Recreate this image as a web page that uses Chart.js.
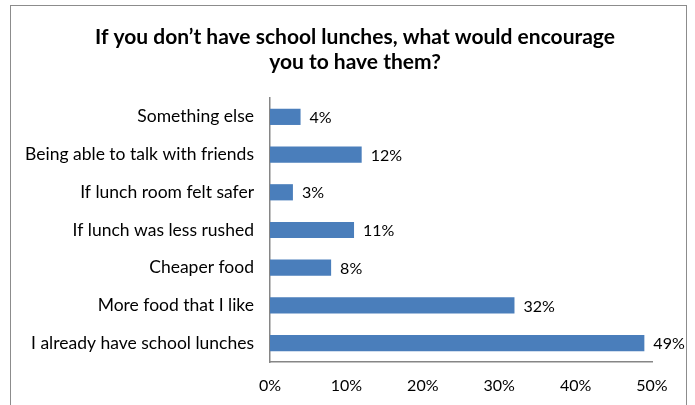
<!DOCTYPE html>
<html>
<head>
<meta charset="utf-8">
<script src="https://cdn.jsdelivr.net/npm/chart.js@4.4.1/dist/chart.umd.min.js"></script>
<style>
    html, body { margin: 0; padding: 0; background: #fff; }
    #wrap { position: relative; width: 695px; height: 405px; overflow: hidden; }
    #frame { position: absolute; left: 10px; top: 5px; width: 677px; height: 420px; border: 1px solid #8c8c8c; box-sizing: border-box; }
    #chart-almoco { position: absolute; left: 0; top: 0; }
</style>
</head>
<body>
<div id="wrap">
    <div id="frame"></div>
    <canvas id="chart-almoco" width="695" height="405"></canvas>
</div>
<script>
const titulo = ["If you don\u2019t have school lunches, what would encourage", "you to have them?"];
const categorias = [
    "Something else",
    "Being able to talk with friends",
    "If lunch room felt safer",
    "If lunch was less rushed",
    "Cheaper food",
    "More food that I like",
    "I already have school lunches"
];
const valores = [4, 12, 3, 11, 8, 32, 49];
const ticksX = [0, 10, 20, 30, 40, 50];

const fonte = 'Lato';
const corBarra = '#4a7ebb';
const corEixo = '#868686';

const canvaAlmoco = document.getElementById('chart-almoco');

// titulo desenhado a mao pra ficar centralizado no quadro e nao so no grafico
const pluginTitulo = {
    id: 'tituloQuadro',
    afterDraw(chart) {
        const ctx = chart.ctx;
        ctx.save();
        ctx.font = 'bold 21px ' + fonte;
        ctx.fillStyle = '#000';
        ctx.textAlign = 'center';
        ctx.textBaseline = 'middle';
        titulo.forEach((linha, i) => {
            ctx.fillText(linha, 355, 37 + i * 25);
        });
        ctx.restore();
    }
};

// rotulo de valor na ponta de cada barra
const pluginRotulos = {
    id: 'rotulosBarra',
    afterDatasetsDraw(chart) {
        const ctx = chart.ctx;
        const meta = chart.getDatasetMeta(0);
        ctx.save();
        ctx.font = '16px ' + fonte;
        ctx.fillStyle = '#000';
        ctx.textAlign = 'left';
        ctx.textBaseline = 'middle';
        meta.data.forEach((bar, i) => {
            ctx.fillText(valores[i] + '%', bar.x + 9, bar.y + 1);
        });
        ctx.restore();
    }
};

const grafico = new Chart(canvaAlmoco, {
    type: 'bar',
    data: {
        labels: categorias,
        datasets: [{
            data: valores,
            backgroundColor: corBarra,
            borderWidth: 0,
            barPercentage: 0.43,
            categoryPercentage: 1
        }]
    },
    options: {
        indexAxis: 'y',
        responsive: false,
        animation: false,
        layout: { padding: { left: 0, right: 43, top: 98, bottom: 0 } },
        plugins: {
            legend: { display: false },
            tooltip: { enabled: false },
            title: { display: false }
        },
        scales: {
            x: {
                min: 0,
                max: 50,
                afterBuildTicks: (s) => { s.ticks = ticksX.map(v => ({ value: v })); },
                afterFit: (s) => { s.height = 43; },
                grid: { display: false, drawTicks: false },
                border: { display: true, color: corEixo, width: 1.5 },
                ticks: {
                    padding: 14,
                    color: '#000',
                    font: { family: fonte, size: 16 },
                    callback: (v) => v + '%'
                }
            },
            y: {
                afterFit: (s) => { s.width = 270; },
                grid: { display: false, drawTicks: false },
                border: { display: true, color: corEixo, width: 1.5 },
                ticks: {
                    padding: 16,
                    color: '#000',
                    font: { family: fonte, size: 17.5 }
                }
            }
        }
    },
    plugins: [pluginTitulo, pluginRotulos]
});
</script>
</body>
</html>
